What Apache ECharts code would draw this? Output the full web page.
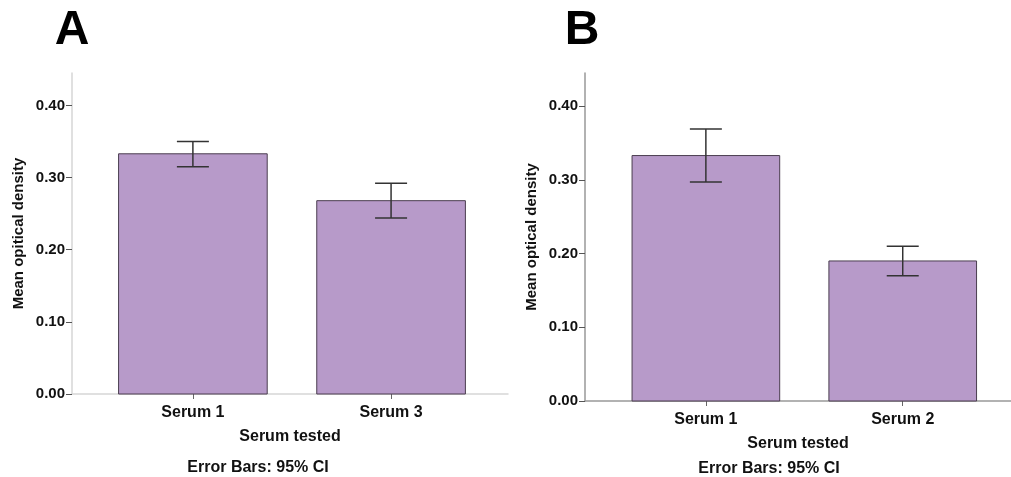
<!DOCTYPE html>
<html>
<head>
<meta charset="utf-8">
<script src="https://cdn.jsdelivr.net/npm/echarts@6/dist/echarts.min.js"></script>
<style>
  html, body { margin: 0; padding: 0; background: #fff; }
  #chart { width: 1011px; height: 477px; }
</style>
</head>
<body>
<div id="chart"></div>
<script>
// panel A
const categoriesA = ['Serum 1', 'Serum 3'];
const meansA = [0.333, 0.268];
const lowerA = [0.315, 0.244];
const upperA = [0.350, 0.292];

// panel B
const categoriesB = ['Serum 1', 'Serum 2'];
const meansB = [0.333, 0.190];
const lowerB = [0.297, 0.170];
const upperB = [0.369, 0.210];

const yTicks = [0, 0.1, 0.2, 0.3, 0.4];

const font = 'Liberation Sans, Arial, sans-serif';
const barFill = '#b79ac9';
const barEdge = '#4a3d4f';

// bars drawn at x = 1, 2 on a value axis so the padding matches the original
function barItems(means) {
    return means.map((v, i) => [i + 1, v]);
}
function errItems(lower, upper) {
    return lower.map((lo, i) => [i + 1, lo, upper[i]]);
}

function renderBar(params, api) {
    const x = api.value(0);
    const top = api.coord([x, api.value(1)]);
    const base = api.coord([x, 0]);
    const w = api.size([0.75, 0])[0];
    return {
        type: 'rect',
        shape: { x: top[0] - w / 2, y: top[1], width: w, height: base[1] - top[1] },
        style: { fill: barFill, stroke: barEdge, lineWidth: 1 },
    };
}

function renderErr(params, api) {
    const x = api.value(0);
    const lo = api.coord([x, api.value(1)]);
    const hi = api.coord([x, api.value(2)]);
    const cap = 16;
    const style = { stroke: '#333', lineWidth: 1.5 };
    return {
        type: 'group',
        children: [
            { type: 'line', shape: { x1: lo[0], y1: lo[1], x2: hi[0], y2: hi[1] }, style },
            { type: 'line', shape: { x1: hi[0] - cap, y1: hi[1], x2: hi[0] + cap, y2: hi[1] }, style },
            { type: 'line', shape: { x1: lo[0] - cap, y1: lo[1], x2: lo[0] + cap, y2: lo[1] }, style },
        ],
    };
}

function makeX(idx, cats, min, max, lineColor) {
    return {
        gridIndex: idx,
        type: 'value',
        min: min,
        max: max,
        name: 'Serum tested',
        nameLocation: 'middle',
        nameGap: 35,
        nameTextStyle: { fontFamily: font, fontWeight: 'bold', fontSize: 16, color: '#111' },
        axisLine: { show: true, lineStyle: { color: lineColor, width: 1.5 } },
        axisTick: { show: true, customValues: [1, 2], length: 5, lineStyle: { color: '#666' } },
        axisLabel: {
            customValues: [1, 2],
            margin: 11,
            formatter: (v) => cats[Math.round(v) - 1] || '',
            fontFamily: font, fontWeight: 'bold', fontSize: 16, color: '#111',
        },
        splitLine: { show: false },
    };
}

function makeY(idx, name, lineColor) {
    return {
        gridIndex: idx,
        type: 'value',
        min: 0,
        max: 0.445,
        name: name,
        nameLocation: 'middle',
        nameGap: 46,
        nameTextStyle: { fontFamily: font, fontWeight: 'bold', fontSize: 15, color: '#111' },
        axisLine: { show: true, lineStyle: { color: lineColor, width: 1.5 } },
        axisTick: { show: true, customValues: yTicks, length: 6, lineStyle: { color: '#555' } },
        axisLabel: {
            customValues: yTicks,
            margin: 7,
            formatter: (v) => v.toFixed(2),
            fontFamily: font, fontWeight: 'bold', fontSize: 15, color: '#111',
        },
        splitLine: { show: false },
    };
}

const chart = echarts.init(document.getElementById('chart'));

chart.setOption({
    backgroundColor: '#fff',
    animation: false,
    grid: [
        { left: 72, top: 73, width: 436, height: 321 },
        { left: 585, top: 73, width: 426, height: 328 },
    ],
    xAxis: [
        makeX(0, categoriesA, 0.39, 2.59, '#d6d6d6'),
        makeX(1, categoriesB, 0.386, 2.55, '#999'),
    ],
    yAxis: [
        makeY(0, 'Mean opitical density', '#d6d6d6'),
        makeY(1, 'Mean optical density', '#999'),
    ],
    graphic: [
        { type: 'text', x: 72, y: 31, style: { text: 'A', font: 'bold 48px ' + font, fill: '#000', align: 'center', verticalAlign: 'middle' } },
        { type: 'text', x: 582, y: 31, style: { text: 'B', font: 'bold 48px ' + font, fill: '#000', align: 'center', verticalAlign: 'middle' } },
        { type: 'text', x: 258, y: 468, style: { text: 'Error Bars: 95% CI', font: 'bold 16px ' + font, fill: '#111', align: 'center', verticalAlign: 'middle' } },
        { type: 'text', x: 769, y: 469, style: { text: 'Error Bars: 95% CI', font: 'bold 16px ' + font, fill: '#111', align: 'center', verticalAlign: 'middle' } },
    ],
    series: [
        { type: 'custom', xAxisIndex: 0, yAxisIndex: 0, renderItem: renderBar, data: barItems(meansA), z: 2 },
        { type: 'custom', xAxisIndex: 0, yAxisIndex: 0, renderItem: renderErr, data: errItems(lowerA, upperA), z: 3 },
        { type: 'custom', xAxisIndex: 1, yAxisIndex: 1, renderItem: renderBar, data: barItems(meansB), z: 2 },
        { type: 'custom', xAxisIndex: 1, yAxisIndex: 1, renderItem: renderErr, data: errItems(lowerB, upperB), z: 3 },
    ],
});
</script>
</body>
</html>
